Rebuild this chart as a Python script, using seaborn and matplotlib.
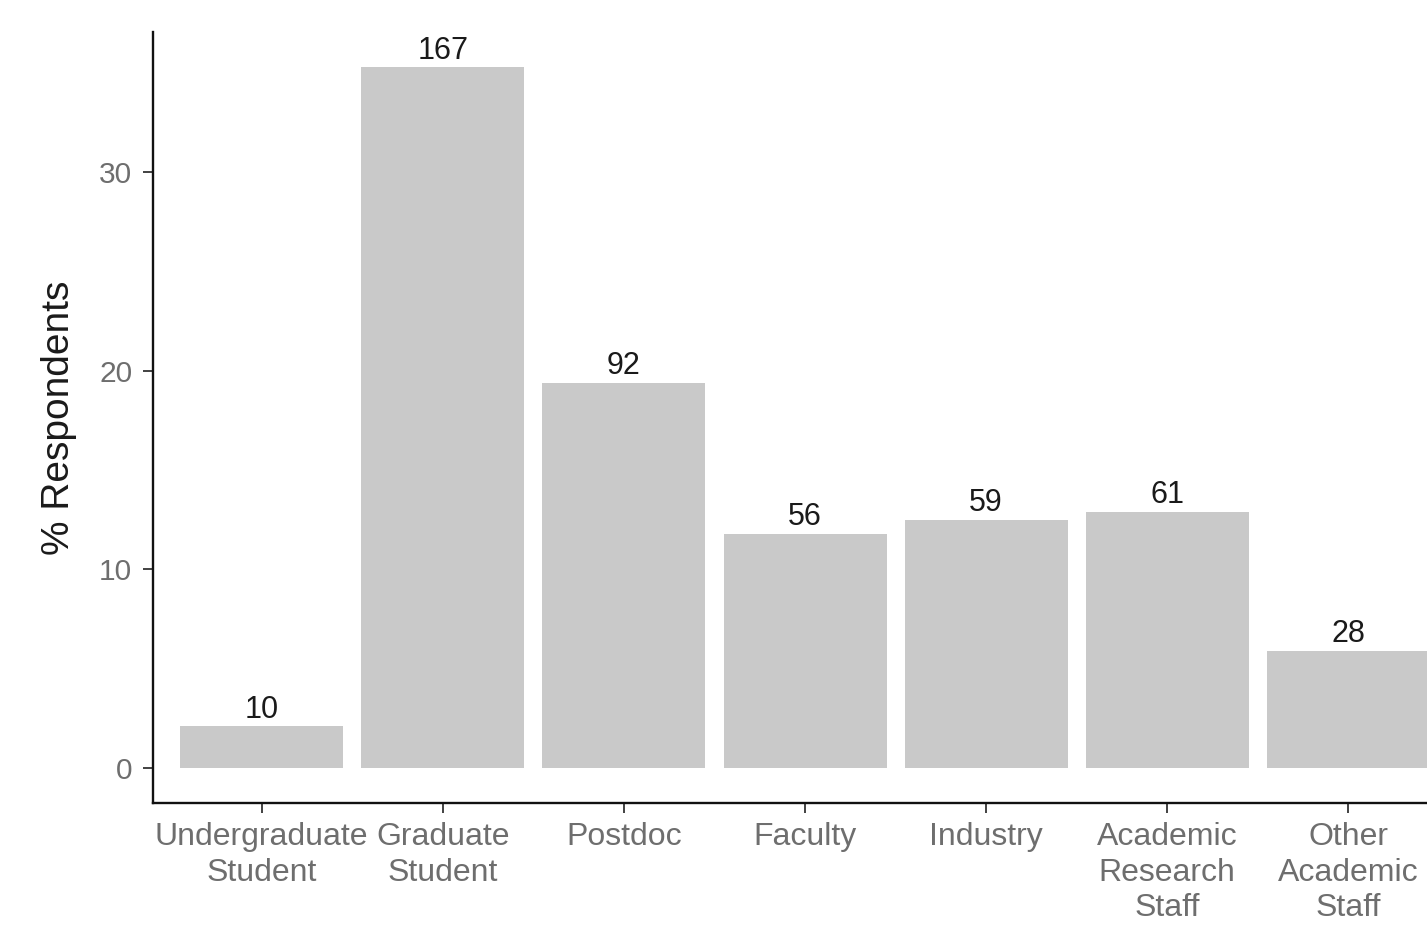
import matplotlib
matplotlib.use('Agg')
import matplotlib.pyplot as plt
import seaborn as sns
import pandas as pd

# data
Categories = ['Undergraduate\nStudent', 'Graduate\nStudent', 'Postdoc', 'Faculty', 'Industry',
              'Academic\nResearch\nStaff', 'Other\nAcademic\nStaff']
Percent = [2.1, 35.3, 19.4, 11.8, 12.5, 12.9, 5.9]
Counts = [10, 167, 92, 56, 59, 61, 28]

sns.set_theme(style='ticks')
plt.rcParams['font.family'] = ['Liberation Sans', 'DejaVu Sans']

Data = pd.DataFrame({'Category': Categories, 'Percent': Percent})

Figure = plt.figure(figsize=(14.27, 9.25), dpi=100)
Axis = Figure.add_axes([153 / 1427, (925 - 803) / 925, (1457 - 153) / 1427, (803 - 32) / 925])

sns.barplot(data=Data, x='Category', y='Percent', color='#C9C9C9', saturation=1, width=0.9, ax=Axis)
for Patch in Axis.patches:
    Patch.set_edgecolor('none')

Axis.bar_label(Axis.containers[0], labels=[str(C) for C in Counts], padding=1, fontsize=22, color='#1a1a1a')

Axis.set_xlim(-0.6, 6.6)
Axis.set_ylim(-1.77, 37.07)
Axis.set_yticks([0, 10, 20, 30])
Axis.set_xlabel('')
Axis.set_ylabel('% Respondents', fontsize=28, color='#1a1a1a', labelpad=16)

for Side in ['top', 'right']:
    Axis.spines[Side].set_visible(False)
for Side in ['left', 'bottom']:
    Axis.spines[Side].set_linewidth(1.7)
    Axis.spines[Side].set_color('#111111')

Axis.tick_params(axis='both', length=7, width=1.3, color='#333333', labelcolor='#6e6e6e')
Axis.tick_params(axis='x', labelsize=23, pad=7)
Axis.tick_params(axis='y', labelsize=21.5, pad=8)
for Label in Axis.get_xticklabels():
    Label.set_linespacing(1.22)

Figure.savefig('out.png', dpi=100, facecolor='white')
